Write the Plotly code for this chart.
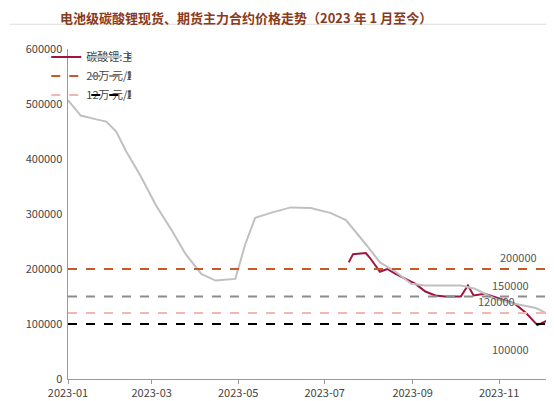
import plotly.graph_objects as go
import pandas as pd

base = pd.Timestamp("2023-01-01")
spot_x_px = [62,75,90,100,110,120,135,150,165,180,195,210,230,240,250,265,285,305,325,340,360,375,390,405,420,435,455,470,490,510,530,545]
spot_vals = [507000,479000,472000,468000,450000,414000,370000,316000,271000,227000,191000,179000,182000,245000,293000,302000,312000,311000,302000,289000,245000,212000,195000,173000,170000,170000,170000,164000,146000,137000,129000,116000]
fut_x_px = [343,348,360,365,375,382,390,400,410,420,430,440,455,462,468,480,495,510,520,532,540,545]
fut_vals = [212000,227000,229000,220000,195000,200000,191000,182000,173000,159000,152000,150000,150000,170000,152000,155000,146000,137000,120000,98000,105000,98000]
def to_date(px): return [base + pd.Timedelta(days=round((p-62)/1.42)) for p in px]
spot_dates = to_date(spot_x_px)
fut_dates = to_date(fut_x_px)
levels = [200000,150000,120000,100000]
level_names = ["20万 元/吨","15万 元/吨","12万 元/吨","10万 元/吨"]
level_colors = ["#c8582a","#8c8c8c","#f0b8b0","#000000"]
xend = base + pd.Timedelta(days=342)

fig = go.Figure()
fig.add_trace(go.Scatter(x=fut_dates, y=fut_vals, mode="lines", name="碳酸锂:主力合约:收盘价 元/吨",
                         line=dict(color="#a0153e", width=2)))
fig.add_trace(go.Scatter(x=spot_dates, y=spot_vals, mode="lines", name="电池级碳酸锂 - 平均价 元/吨",
                         line=dict(color="#c0c0c0", width=2)))
for v, n, c in zip(levels, level_names, level_colors):
    fig.add_trace(go.Scatter(x=[base, xend], y=[v, v], mode="lines", name=n,
                             line=dict(color=c, width=2, dash="dash")))
for lbl, v, xd, dy in [("200000",200000,318,12),("150000",150000,312,12),("120000",120000,302,12),("100000",100000,312,-25)]:
    fig.add_annotation(x=base+pd.Timedelta(days=xd), y=v, yshift=dy, text=lbl, showarrow=False,
                       font=dict(size=11, color="#555"))
fig.add_annotation(text="<b>电池级碳酸锂现货、期货主力合约价格走势（2023 年 1 月至今）</b>", xref="paper", yref="paper",
                   x=-0.02, y=1.13, xanchor="left", showarrow=False, font=dict(size=13, color="#8b3a1a"))
fig.add_shape(type="line", xref="paper", yref="paper", x0=-0.12, x1=1.02, y0=1.075, y1=1.075,
              line=dict(color="#dddddd", width=1))
fig.update_layout(
    width=554, height=401, margin=dict(l=60, r=9, t=41, b=24),
    plot_bgcolor="white", paper_bgcolor="white",
    font=dict(family="Noto Sans CJK SC", size=11, color="#444"),
    legend=dict(x=0.02, y=1.02, xanchor="left", yanchor="top", orientation="h",
                entrywidth=0.5, entrywidthmode="fraction",
                bgcolor="rgba(0,0,0,0)", font=dict(size=11), tracegroupgap=0),
    xaxis=dict(range=[base, xend], tickformat="%Y-%m", dtick="M2", tick0="2023-01-01",
               showgrid=False, showline=True, linecolor="#999", ticks="outside", ticklen=4, tickcolor="#999"),
    yaxis=dict(range=[0, 600000], dtick=100000, showgrid=False, showline=True, linecolor="#999",
               tickformat="d", zeroline=False, ticksuffix=" "),
)
fig.write_html("out.html")
